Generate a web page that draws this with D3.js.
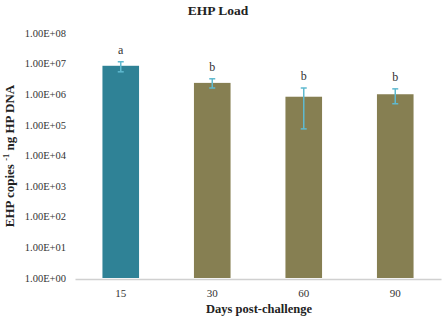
<!DOCTYPE html>
<html>
  <head>
    <script src="https://d3js.org/d3.v7.min.js"></script>
    <style>
      body { margin: 0; background: white; }
      text { font-family: "Liberation Serif", "DejaVu Serif", serif; }
    </style>
  </head>
  <body>
    <svg id="canvas" width="445" height="320"></svg>
    <script>
      // data
      const days = ['15', '30', '60', '90']
      const load = [8.5e6, 2.35e6, 8.3e5, 1.0e6]
      const errHigh = [1.15e7, 3.2e6, 1.6e6, 1.5e6]
      const errLow = [5.4e6, 1.6e6, 7.4e4, 4.9e5]
      const letters = ['a', 'b', 'b', 'b']
      const barColors = ['#2f8296', '#867f52', '#867f52', '#867f52']
      const yTicks = [1e0, 1e1, 1e2, 1e3, 1e4, 1e5, 1e6, 1e7, 1e8]

      const margin = { top: 33, right: 4, bottom: 42, left: 75 }
      const svg = d3.select('#canvas')
      const width = 445 - margin.left - margin.right
      const height = 320 - margin.top - margin.bottom
      const g = svg.append('g').attr('transform', `translate(${margin.left}, ${margin.top})`)

      const x = d3.scaleBand().domain(days).range([0, width]).paddingInner(0.6).paddingOuter(0.3)
      const y = d3.scaleLog().domain([1, 1e8]).range([height, 0])

      // y tick labels (no axis line)
      const fmt = v => {
        const e = Math.round(Math.log10(v))
        return '1.00E+' + (e < 10 ? '0' + e : e)
      }
      g.selectAll('.ylab').data(yTicks).enter()
        .append('text')
        .attr('class', 'ylab')
        .attr('x', -9)
        .attr('y', d => y(d))
        .attr('dy', '0.35em')
        .attr('text-anchor', 'end')
        .attr('font-size', 10.5)
        .attr('fill', '#333')
        .text(fmt)

      // bars
      g.selectAll('.bar').data(days).enter()
        .append('rect')
        .attr('class', 'bar')
        .attr('x', d => x(d))
        .attr('width', x.bandwidth())
        .attr('y', (d, i) => y(load[i]))
        .attr('height', (d, i) => height - y(load[i]))
        .attr('fill', (d, i) => barColors[i])

      // error bars
      const eb = g.append('g').attr('stroke', '#5fb9cf').attr('stroke-width', 1.5)
      days.forEach((d, i) => {
        const cx = x(d) + x.bandwidth() / 2
        eb.append('line').attr('x1', cx).attr('x2', cx)
          .attr('y1', y(errHigh[i])).attr('y2', y(errLow[i]))
        eb.append('line').attr('x1', cx - 3).attr('x2', cx + 3)
          .attr('y1', y(errHigh[i])).attr('y2', y(errHigh[i]))
        eb.append('line').attr('x1', cx - 3).attr('x2', cx + 3)
          .attr('y1', y(errLow[i])).attr('y2', y(errLow[i]))
      })

      // significance letters
      g.selectAll('.letter').data(days).enter()
        .append('text')
        .attr('x', d => x(d) + x.bandwidth() / 2)
        .attr('y', (d, i) => y(errHigh[i]) - 8)
        .attr('text-anchor', 'middle')
        .attr('font-size', 12)
        .attr('fill', '#333')
        .text((d, i) => letters[i])

      // x axis
      const xAxis = g.append('g')
        .attr('transform', `translate(0, ${height + 1})`)
        .call(d3.axisBottom(x).tickSize(0).tickPadding(10))
      xAxis.select('.domain').attr('stroke', '#d0d0d0').attr('stroke-width', 1.3)
      xAxis.selectAll('text')
        .attr('font-family', '"Liberation Serif", serif')
        .attr('font-size', 11)
        .attr('fill', '#333')

      // title
      svg.append('text')
        .attr('x', 218)
        .attr('y', 15)
        .attr('text-anchor', 'middle')
        .attr('font-size', 13.5)
        .attr('font-weight', 'bold')
        .attr('fill', '#222')
        .text('EHP Load')

      // x axis title
      svg.append('text')
        .attr('x', 259)
        .attr('y', 313)
        .attr('text-anchor', 'middle')
        .attr('font-size', 12.5)
        .attr('font-weight', 'bold')
        .attr('fill', '#222')
        .text('Days post-challenge')

      // y axis title
      const yt = svg.append('text')
        .attr('transform', 'translate(14, 156) rotate(-90)')
        .attr('text-anchor', 'middle')
        .attr('font-size', 13)
        .attr('font-weight', 'bold')
        .attr('fill', '#222')
      yt.append('tspan').text('EHP copies ')
      yt.append('tspan').attr('font-size', 8.5).attr('dy', -5).text('-1')
      yt.append('tspan').attr('dy', 5).text(' ng HP DNA')
    </script>
  </body>
</html>
